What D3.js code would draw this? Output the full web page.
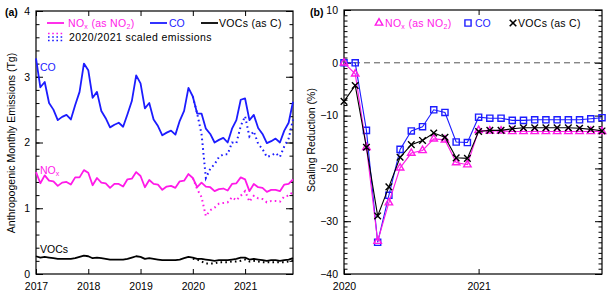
<!DOCTYPE html>
<meta charset="utf-8">
<style>
body { margin: 0; background: #fff; }
svg text { font-family: "Liberation Sans", Arial, sans-serif; }
.axis path { stroke: #000; stroke-width: 1.2px; }
.axis line { stroke: #000; stroke-width: 1px; }
.axis text { font-size: 10.5px; fill: #000; }
</style>
<svg width="610" height="297"></svg>
<script src="https://d3js.org/d3.v7.min.js"></script>
<script>
// month index 0 = Jan 2017 ... 59 = Dec 2021
var yearTicks = [0, 12, 24, 36, 48];
var yearLabels = ["2017", "2018", "2019", "2020", "2021"];

var co = [3.28, 2.84, 2.92, 2.60, 2.50, 2.34, 2.39, 2.42, 2.35, 2.57, 2.77, 3.20,
          3.10, 2.68, 2.77, 2.48, 2.37, 2.23, 2.27, 2.30, 2.24, 2.43, 2.63, 3.02,
          2.90, 2.52, 2.60, 2.35, 2.25, 2.11, 2.15, 2.18, 2.12, 2.33, 2.48, 2.83,
          2.70, 2.44, 2.44, 2.21, 2.13, 2.00, 2.04, 2.07, 2.00, 2.21, 2.34, 2.65,
          2.67, 2.34, 2.42, 2.22, 2.13, 1.99, 2.02, 2.06, 2.00, 2.18, 2.30, 2.62];
var nox = [1.55, 1.38, 1.50, 1.42, 1.41, 1.34, 1.39, 1.40, 1.36, 1.47, 1.47, 1.58,
           1.54, 1.35, 1.46, 1.39, 1.38, 1.31, 1.37, 1.37, 1.33, 1.44, 1.45, 1.55,
           1.49, 1.32, 1.43, 1.37, 1.36, 1.28, 1.33, 1.34, 1.31, 1.41, 1.42, 1.52,
           1.46, 1.32, 1.39, 1.33, 1.32, 1.26, 1.29, 1.30, 1.27, 1.37, 1.38, 1.47,
           1.44, 1.26, 1.37, 1.32, 1.31, 1.25, 1.28, 1.28, 1.26, 1.36, 1.37, 1.44];
var voc = [0.27, 0.25, 0.26, 0.25, 0.24, 0.23, 0.23, 0.23, 0.23, 0.24, 0.26, 0.28,
           0.27, 0.24, 0.25, 0.24, 0.23, 0.22, 0.22, 0.22, 0.22, 0.23, 0.25, 0.27,
           0.26, 0.23, 0.24, 0.23, 0.22, 0.21, 0.21, 0.21, 0.21, 0.22, 0.24, 0.26,
           0.25, 0.23, 0.23, 0.22, 0.21, 0.20, 0.21, 0.21, 0.21, 0.22, 0.23, 0.25,
           0.25, 0.22, 0.23, 0.22, 0.21, 0.20, 0.21, 0.21, 0.20, 0.21, 0.22, 0.24];

// scaled emissions, Jan 2020 (index 36) .. Dec 2021
var coScaled = [2.70, 2.44, 2.13, 1.46, 1.60, 1.67, 1.78, 1.82, 1.82, 2.00, 1.99, 2.25,
                2.40, 2.09, 2.17, 1.98, 1.90, 1.78, 1.80, 1.84, 1.78, 1.94, 2.06, 2.35];
var noxScaled = [1.46, 1.29, 1.17, 0.88, 0.97, 1.01, 1.07, 1.08, 1.09, 1.17, 1.12, 1.19,
                 1.26, 1.10, 1.19, 1.15, 1.14, 1.09, 1.11, 1.11, 1.10, 1.18, 1.19, 1.25];
var vocScaled = [0.23, 0.22, 0.19, 0.16, 0.16, 0.16, 0.18, 0.18, 0.18, 0.19, 0.19, 0.20,
                 0.22, 0.19, 0.20, 0.19, 0.18, 0.18, 0.18, 0.18, 0.18, 0.18, 0.19, 0.21];

// scaling reduction (%), Jan 2020 .. Dec 2021
var redNox = [0, -2.1, -16.0, -33.8, -26.5, -19.9, -17.1, -16.6, -14.4, -14.6, -18.9, -19.3,
              -12.8, -12.9, -12.9, -13.0, -13.0, -13.0, -13.0, -13.0, -13.0, -13.0, -13.0, -13.0];
var redCo = [0, 0, -12.8, -34.0, -25.1, -16.4, -12.9, -12.1, -8.9, -9.4, -15.0, -15.1,
             -10.3, -10.5, -10.5, -10.9, -10.9, -10.8, -10.8, -10.8, -10.8, -10.8, -10.6, -10.4];
var redVoc = [-7.3, -4.3, -16.0, -29.0, -23.5, -17.9, -15.5, -14.7, -13.3, -14.1, -18.0, -18.1,
              -13.0, -12.8, -12.8, -12.5, -12.3, -12.3, -12.3, -12.3, -12.3, -12.4, -12.6, -12.9];

var MAG = "#ff1ae8", BLU = "#1c1cff", BLK = "#000";

var svg = d3.select("svg");

// ---------- panel (a) ----------
var xa = d3.scaleLinear().domain([0, 59]).range([36, 293]);
var ya = d3.scaleLinear().domain([0, 4]).range([274, 11]);

function frame(g, x, y, xt, xl, ymajor, yminor, yfmt) {
  var x0 = x.range()[0], x1 = x.range()[1], y0 = y.range()[0], y1 = y.range()[1];
  g.append("g").attr("class", "axis").attr("transform", "translate(0," + y0 + ")")
    .call(d3.axisBottom(x).tickValues(xt).tickSize(-5).tickPadding(9)
      .tickFormat(function(d, i) { return xl[i]; }));
  g.append("g").attr("class", "axis").attr("transform", "translate(0," + y1 + ")")
    .call(d3.axisTop(x).tickValues(xt).tickSize(-5).tickFormat(""));
  g.append("g").attr("class", "axis").attr("transform", "translate(" + x0 + ",0)")
    .call(d3.axisLeft(y).tickValues(ymajor).tickSize(-7).tickPadding(6).tickFormat(yfmt));
  g.append("g").attr("class", "axis").attr("transform", "translate(" + x1 + ",0)")
    .call(d3.axisRight(y).tickValues(ymajor).tickSize(-7).tickFormat(""));
  g.append("g").attr("class", "axis").attr("transform", "translate(" + x0 + ",0)")
    .call(d3.axisLeft(y).tickValues(yminor).tickSize(-3.5).tickFormat(""));
  g.append("g").attr("class", "axis").attr("transform", "translate(" + x1 + ",0)")
    .call(d3.axisRight(y).tickValues(yminor).tickSize(-3.5).tickFormat(""));
  g.selectAll(".axis .domain").attr("d", null);
  g.append("rect").attr("x", x0).attr("y", y1).attr("width", x1 - x0).attr("height", y0 - y1)
    .attr("fill", "none").attr("stroke", "#000").attr("stroke-width", 1.2);
}

var ga = svg.append("g");
frame(ga, xa, ya, yearTicks, yearLabels, [0, 1, 2, 3, 4], d3.range(0, 4.01, 0.2), d3.format("d"));

var lineA = d3.line().x(function(d, i) { return xa(i); }).y(function(d) { return ya(d); });
var lineS = d3.line().x(function(d, i) { return xa(i + 36); }).y(function(d) { return ya(d); });

[[coScaled, BLU], [noxScaled, MAG], [vocScaled, BLK]].forEach(function(s) {
  ga.append("path").datum(s[0]).attr("d", lineS).attr("fill", "none")
    .attr("stroke", s[1]).attr("stroke-width", 2).attr("stroke-dasharray", "1.6,3.2");
});
[[co, BLU], [nox, MAG], [voc, BLK]].forEach(function(s) {
  ga.append("path").datum(s[0]).attr("d", lineA).attr("fill", "none")
    .attr("stroke", s[1]).attr("stroke-width", 1.8).attr("stroke-linejoin", "round");
});

// inline labels
ga.append("text").attr("x", 40).attr("y", 71).attr("fill", BLU).attr("font-size", 10.5).text("CO");
var tn = ga.append("text").attr("x", 40).attr("y", 174).attr("fill", MAG).attr("font-size", 10.5);
tn.append("tspan").text("NO");
tn.append("tspan").attr("font-size", 7).attr("dy", 2).text("x");
ga.append("text").attr("x", 40).attr("y", 253).attr("fill", BLK).attr("font-size", 10.5).text("VOCs");

// legend (a)
function noxLabel(g, x, y, col) {
  var t = g.append("text").attr("x", x).attr("y", y).attr("fill", col).attr("font-size", 10.5)
    .attr("letter-spacing", 0.3);
  t.append("tspan").text("NO");
  t.append("tspan").attr("font-size", 7).attr("dy", 2).text("x");
  t.append("tspan").attr("dy", -2).text(" (as NO");
  t.append("tspan").attr("font-size", 7).attr("dy", 2).text("2");
  t.append("tspan").attr("dy", -2).text(")");
}
ga.append("line").attr("x1", 47).attr("x2", 64).attr("y1", 23).attr("y2", 23).attr("stroke", MAG).attr("stroke-width", 1.8);
noxLabel(ga, 68, 27, MAG);
ga.append("line").attr("x1", 150).attr("x2", 167).attr("y1", 23).attr("y2", 23).attr("stroke", BLU).attr("stroke-width", 1.8);
ga.append("text").attr("x", 169).attr("y", 27).attr("fill", BLU).attr("font-size", 10.5).text("CO");
ga.append("line").attr("x1", 201).attr("x2", 218).attr("y1", 23).attr("y2", 23).attr("stroke", BLK).attr("stroke-width", 1.8);
ga.append("text").attr("x", 219).attr("y", 27).attr("fill", BLK).attr("font-size", 10.5)
  .attr("letter-spacing", 0.3).text("VOCs (as C)");
[[MAG, 33.5], [BLU, 37], [BLU, 40.5]].forEach(function(s) {
  ga.append("line").attr("x1", 48).attr("x2", 64).attr("y1", s[1]).attr("y2", s[1])
    .attr("stroke", s[0]).attr("stroke-width", 1.6).attr("stroke-dasharray", "1.6,2.6");
});
ga.append("text").attr("x", 69).attr("y", 41).attr("font-size", 10.5).attr("letter-spacing", 0.4)
  .text("2020/2021 scaled emissions");

ga.append("text").attr("x", 5).attr("y", 16).attr("font-size", 10.5).attr("font-weight", "bold").text("(a)");
ga.append("text").attr("transform", "translate(15,143) rotate(-90)").attr("text-anchor", "middle")
  .attr("font-size", 10.5).text("Anthropogenic Monthly Emissions (Tg)");

// ---------- panel (b) ----------
var xb = d3.scaleLinear().domain([0, 23]).range([344, 602]);
var yb = d3.scaleLinear().domain([-40, 10]).range([274, 10]);
var gb = svg.append("g");
frame(gb, xb, yb, [0, 12], ["2020", "2021"], [-40, -30, -20, -10, 0, 10], d3.range(-40, 10.01, 1),
  function(d) { return d < 0 ? "\u2212" + Math.abs(d) : d; });

gb.append("line").attr("x1", xb(0)).attr("x2", xb(23)).attr("y1", yb(0)).attr("y2", yb(0))
  .attr("stroke", "#555").attr("stroke-width", 1).attr("stroke-dasharray", "6,4");

var lineB = d3.line().x(function(d, i) { return xb(i); }).y(function(d) { return yb(d); });
var series = [
  { v: redCo, c: BLU, sym: d3.symbolSquare, size: 38 },
  { v: redNox, c: MAG, sym: d3.symbolTriangle, size: 24 },
  { v: redVoc, c: BLK, sym: d3.symbolTimes, size: 30 }
];
series.forEach(function(s) {
  gb.append("path").datum(s.v).attr("d", lineB).attr("fill", "none")
    .attr("stroke", s.c).attr("stroke-width", 1.1);
  gb.selectAll(null).data(s.v).enter().append("path")
    .attr("transform", function(d, i) { return "translate(" + xb(i) + "," + yb(d) + ")"; })
    .attr("d", d3.symbol().type(s.sym).size(s.size))
    .attr("fill", "none").attr("stroke", s.c).attr("stroke-width", 1.4);
});

// legend (b)
gb.append("path").attr("transform", "translate(379,23)").attr("d", d3.symbol().type(d3.symbolTriangle).size(24))
  .attr("fill", "none").attr("stroke", MAG).attr("stroke-width", 1.4);
noxLabel(gb, 385, 27, MAG);
gb.append("path").attr("transform", "translate(468,23)").attr("d", d3.symbol().type(d3.symbolSquare).size(38))
  .attr("fill", "none").attr("stroke", BLU).attr("stroke-width", 1.4);
gb.append("text").attr("x", 475).attr("y", 27).attr("fill", BLU).attr("font-size", 10.5).text("CO");
gb.append("path").attr("transform", "translate(513,23)").attr("d", d3.symbol().type(d3.symbolTimes).size(30))
  .attr("fill", "none").attr("stroke", BLK).attr("stroke-width", 1.6);
gb.append("text").attr("x", 518).attr("y", 27).attr("font-size", 10.5).attr("letter-spacing", 0.3)
  .text("VOCs (as C)");

gb.append("text").attr("x", 310).attr("y", 16).attr("font-size", 10.5).attr("font-weight", "bold").text("(b)");
gb.append("text").attr("transform", "translate(315,140) rotate(-90)").attr("text-anchor", "middle")
  .attr("font-size", 10.5).text("Scaling Reduction (%)");
</script>
